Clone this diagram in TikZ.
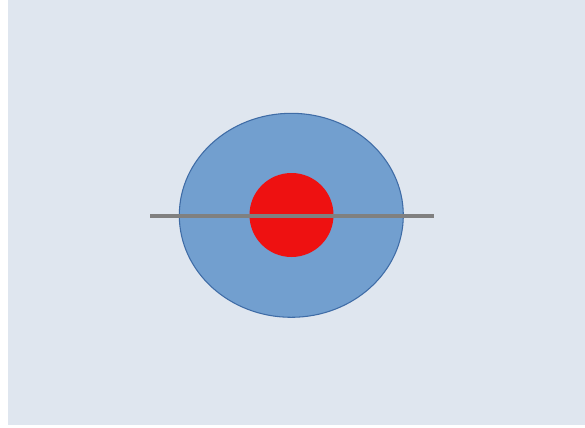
\documentclass[tikz,border=0pt]{standalone}
\usetikzlibrary{shapes.geometric}
\definecolor{bgc}{HTML}{DFE6EF}
\definecolor{bluefill}{HTML}{729FCF}
\definecolor{blueedge}{HTML}{3F6CA6}
\definecolor{redfill}{HTML}{EE1111}
\definecolor{linegray}{HTML}{808080}
\tikzset{
  outer/.style={ellipse, draw=blueedge, line width=0.8pt, fill=bluefill, minimum width=224*0.75pt, minimum height=204*0.75pt, inner sep=0pt},
  inner/.style={circle, fill=redfill, minimum size=84*0.75pt, inner sep=0pt},
  bar/.style={draw=linegray, line width=3pt}
}
\begin{document}
\begin{tikzpicture}[x=0.75pt,y=-0.75pt]
\useasboundingbox (0,0) rectangle (585,428);
\fill[white] (0,0) rectangle (585,428);
\fill[bgc] (8,0) rectangle (585,425);
\node[outer] (ell) at (291.3,215.3) {};
\node[inner] (dot) at (291.5,215) {};
\coordinate (l) at (150,215.5);
\coordinate (r) at (433.5,215.5);
\draw[bar] (l) -- (r);
\end{tikzpicture}
\end{document}
